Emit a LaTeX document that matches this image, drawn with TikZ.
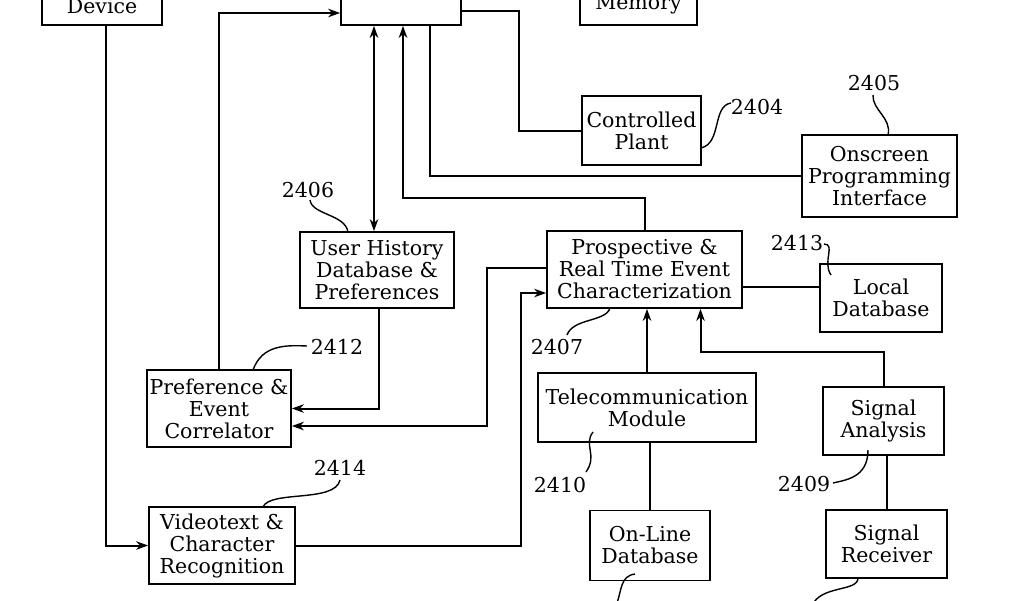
\documentclass[tikz,border=0pt]{standalone}
\usepackage{fontspec}
\setmainfont{DejaVu Serif}
\usetikzlibrary{arrows.meta}
\begin{document}
\begin{tikzpicture}[x=1pt,y=-1pt]
\tikzset{
 box/.style={draw, line width=1.7pt, inner sep=0pt, align=center, font=\fontsize{20.5}{22}\selectfont},
 conn/.style={line width=2pt},
 arr/.style={conn, -{Stealth[length=12pt,width=8.5pt]}},
 darr/.style={conn, {Stealth[length=12pt,width=8.5pt]}-{Stealth[length=12pt,width=8.5pt]}},
 num/.style={font=\fontsize{20.5}{22}\selectfont, inner sep=0pt},
 lead/.style={line width=1.4pt},
}
\useasboundingbox (0,0) rectangle (1024,600);
\clip (0,0) rectangle (1024,600);
\fill[white] (0,0) rectangle (1024,600);
% boxes cut at top
\node[box, minimum width=120pt, minimum height=70pt] (dev) at (102,-10) {};
\node[num, anchor=base] (devt) at (102,13) {Device};
\node[box, minimum width=120pt, minimum height=70pt] (cen) at (401,-10) {};
\node[box, minimum width=117pt, minimum height=70pt] (mem) at (638.5,-10) {};
\node[num, anchor=base] (memt) at (638.5,9) {Memory};
% boxes
\node[box, minimum width=119pt, minimum height=69pt] (cp) at (641.5,130.5) {Controlled\\Plant};
\node[box, minimum width=155pt, minimum height=82pt] (osi) at (879.5,176) {Onscreen\\Programming\\Interface};
\node[box, minimum width=154pt, minimum height=76pt] (uh) at (377,270) {User History\\Database \&\\Preferences};
\node[box, minimum width=195pt, minimum height=77pt] (pr) at (644.5,269.5) {Prospective \&\\Real Time Event\\Characterization};
\node[box, minimum width=122pt, minimum height=68pt] (ld) at (881,298) {Local\\Database};
\node[box, minimum width=144pt, minimum height=77pt] (pe) at (219,408.5) {Preference \&\\Event\\Correlator};
\node[box, minimum width=218pt, minimum height=69pt] (tm) at (647,407.5) {Telecommunication\\Module};
\node[box, minimum width=121pt, minimum height=68pt] (sa) at (883.5,421) {Signal\\Analysis};
\node[box, minimum width=146pt, minimum height=77pt] (vt) at (222,545.5) {Videotext \&\\Character\\Recognition};
\node[box, minimum width=120pt, minimum height=70pt] (ol) at (650,545.5) {On-Line\\Database};
\node[box, minimum width=121pt, minimum height=68pt] (sr) at (886.5,544) {Signal\\Receiver};
% connectors
\draw[arr] ([xshift=4pt]dev.south) |- (vt.west);
\draw[arr] (pe.north) |- ([yshift=-23pt]cen.west);
\draw[darr] ([xshift=-3pt]uh.north) -- ([xshift=-3pt]uh.north |- cen.south);
\draw[arr] (pr.north) -- ++(0,-32) -| ([xshift=2pt]cen.south);
\draw[conn] (osi.west) -| ([xshift=29pt]cen.south);
\draw[conn] ([yshift=-21pt]cen.east) -- ++(57,0) |- (cp.west);
\draw[arr] ([xshift=2pt]uh.south) |- (pe.east);
\draw[arr] ([yshift=1.5pt]pr.west) -- ++(-59,0) |- ([yshift=-17.5pt]pe.east);
\draw[arr] (vt.east) -- ++(225,0) |- ([yshift=-23.5pt]pr.west);
\draw[conn] ([yshift=-17.5pt]pr.east) -- ([yshift=-17.5pt]pr.east -| ld.west);
\draw[arr] (tm.north) -- (tm.north |- pr.south);
\draw[arr] (sa.north) -- ++(0,-34) -| ([xshift=56pt]pr.south);
\draw[conn] (ol.north) -- (ol.north |- tm.south);
\draw[conn] (sr.north) -- (sr.north |- sa.south);
% reference numerals
\node[num] (n2404) at (757,107) {2404};
\node[num] (n2405) at (874,83) {2405};
\node[num] (n2406) at (308,190) {2406};
\node[num] (n2412) at (337,347) {2412};
\node[num] (n2407) at (557,347) {2407};
\node[num] (n2413) at (797,243) {2413};
\node[num] (n2414) at (340,468) {2414};
\node[num] (n2410) at (560,485) {2410};
\node[num] (n2409) at (804,484) {2409};
% leaders
\draw[lead] (701,148) .. controls (722,143) and (712,106) .. (731,103);
\draw[lead] (888,135) .. controls (892,118) and (872,110) .. (873,95);
\draw[lead] (348,232) .. controls (345,214) and (312,215) .. (310,200);
\draw[lead] (253,370) .. controls (262,345) and (285,345) .. (307,346);
\draw[lead] (610,308) .. controls (606,322) and (573,318) .. (567,335);
\draw[lead] (824,244) .. controls (836,244) and (822,262) .. (831,275);
\draw[lead] (263,507) .. controls (270,490) and (335,503) .. (340,480);
\draw[lead] (593,432) .. controls (583,445) and (598,455) .. (586,472);
\draw[lead] (868,450) .. controls (868,478) and (845,480) .. (833,483);
\draw[lead] (635,574) .. controls (620,576) and (622,590) .. (616,606);
\draw[lead] (858,578) .. controls (858,592) and (820,585) .. (812,606);
\end{tikzpicture}
\end{document}
